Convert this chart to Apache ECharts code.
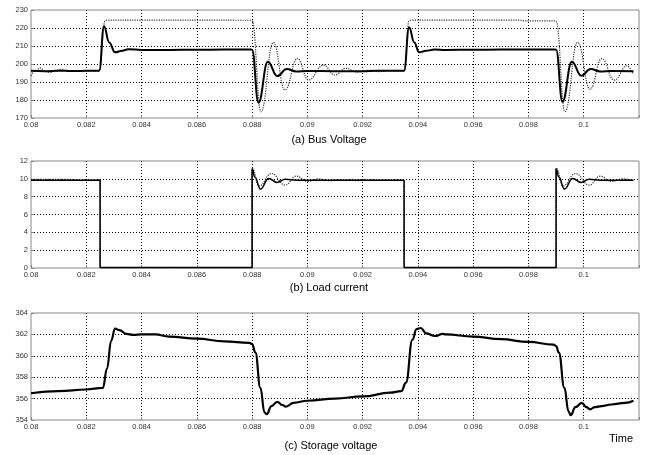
<!DOCTYPE html>
<html>
<head>
<meta charset="utf-8" />
<title>Bus voltage, load current and storage voltage</title>
<script src="https://cdn.jsdelivr.net/npm/echarts@6/dist/echarts.min.js"></script>
<style>
  html, body { margin: 0; padding: 0; background: #fff; }
  #main { width: 647px; height: 455px; }
</style>
</head>
<body>
<div id="main"></div>
<script type="text/javascript">
// values: [time (s), value]
var busSolid = [
  [0.08, 196.2], [0.0805, 196.0], [0.081, 196.3], [0.0815, 196.1], [0.082, 196.2], [0.08244, 196.2], [0.08247, 196.3],
  [0.08264, 221], [0.08283, 212], [0.08304, 206.5], [0.0833, 207.4], [0.08352, 208.2], [0.084, 207.8], [0.085, 207.8],
  [0.086, 207.9], [0.087, 208], [0.08797, 208], [0.088, 207.8], [0.08823, 178.5], [0.08857, 201.3],
  [0.08891, 193.3], [0.08925, 197.2], [0.0896, 195.9], [0.09, 196.1],
  [0.091, 196], [0.092, 196], [0.0925, 196.3], [0.09347, 196.2], [0.0935, 196.3], [0.09368, 220.4], [0.09387, 212],
  [0.09404, 206.5], [0.0943, 207.3], [0.0946, 208.1], [0.095, 207.8], [0.096, 207.9], [0.097, 208], [0.098, 208.1],
  [0.09897, 208.1], [0.099, 207.9], [0.09923, 179], [0.09957, 201.3], [0.09991, 193.5],
  [0.10025, 197.2], [0.1006, 195.9], [0.101, 196.1], [0.1018, 196]
];
var busDotted = [
  [0.08, 193.5], [0.08015, 196], [0.08033, 197.8], [0.0805, 196], [0.0807, 195.3], [0.0809, 196.5], [0.0811, 197],
  [0.0813, 196], [0.0816, 196.3], [0.082, 196.2], [0.08244, 196.2], [0.08247, 196.3], [0.08268, 223.8], [0.08275, 224.4],
  [0.084, 224.4], [0.086, 224.4], [0.08797, 224.3], [0.088, 224], [0.08832, 173.5], [0.08877, 212], [0.08919, 185.6],
  [0.08964, 203.1], [0.09004, 191.1], [0.09058, 199.4], [0.091, 193.9], [0.09139, 197.6], [0.0918, 195.5],
  [0.0922, 196.5], [0.0926, 195.8], [0.093, 196.2], [0.09347, 196.2], [0.0935, 196.3], [0.09368, 223.8], [0.09375, 224.4],
  [0.0977, 224.4], [0.0978, 224], [0.09897, 224], [0.099, 223.7], [0.09932, 173.5], [0.09978, 212], [0.10023, 186],
  [0.10065, 203], [0.10111, 191], [0.10156, 199], [0.1018, 194]
];
var loadSolid = [
  [0.08, 9.85], [0.0824, 9.85], [0.0825, 9.85], [0.0825, 0.05], [0.0879, 0.05], [0.088, 0.05], [0.088, 11.1],
  [0.0881, 10.2], [0.0883, 8.85], [0.0886, 10.05], [0.0889, 9.6], [0.0892, 9.95], [0.0896, 9.85], [0.093, 9.85],
  [0.0934, 9.85], [0.0935, 9.85], [0.0935, 0.05], [0.0989, 0.05], [0.099, 0.05], [0.099, 11.1], [0.0991, 10.2],
  [0.0993, 8.85], [0.0996, 10.05], [0.0999, 9.6], [0.1002, 9.95], [0.1006, 9.85], [0.1018, 9.85]
];
var loadDotted = [
  [0.08, 9.95], [0.0813, 9.95], [0.0818, 9.85], [0.0825, 9.85], [0.0825, 0.05], [0.088, 0.05], [0.088, 11.2],
  [0.08825, 9.2], [0.0887, 10.6], [0.0892, 9.3], [0.0896, 10.3], [0.09, 9.7], [0.0904, 10.0], [0.0908, 9.8],
  [0.0912, 9.9], [0.0935, 9.85], [0.0935, 0.05], [0.099, 0.05], [0.099, 11.2], [0.09925, 9.2], [0.0997, 10.6],
  [0.1002, 9.3], [0.1006, 10.3], [0.101, 9.7], [0.1014, 10.0], [0.1018, 9.8]
];
var storage = [
  [0.08, 356.5], [0.081, 356.7], [0.082, 356.85], [0.0826, 357.0], [0.08275, 358.8], [0.0829, 361.4], [0.08304, 362.55],
  [0.0832, 362.4], [0.08345, 362.05], [0.0837, 361.95], [0.084, 362.0], [0.0845, 362.0], [0.085, 361.8], [0.086, 361.6],
  [0.087, 361.35], [0.0879, 361.2], [0.088, 361.1], [0.08812, 360.3], [0.0883, 357], [0.08845, 354.7], [0.08853, 354.55],
  [0.0887, 355.3], [0.08891, 355.7], [0.0891, 355.4], [0.08922, 355.25], [0.0895, 355.6], [0.09, 355.8], [0.091, 356.0],
  [0.092, 356.2], [0.093, 356.55], [0.0934, 356.7], [0.09357, 357.5], [0.0938, 361.5], [0.09395, 362.5], [0.0941, 362.6],
  [0.0943, 362.1], [0.09462, 361.85], [0.0949, 362.05], [0.095, 362.0], [0.096, 361.8], [0.097, 361.55], [0.098, 361.3],
  [0.0989, 361.05], [0.099, 360.9], [0.0991, 360.3], [0.0993, 357], [0.09945, 354.8], [0.09953, 354.45], [0.0997, 355.2],
  [0.09993, 355.6], [0.1001, 355.2], [0.10023, 355.0], [0.1004, 355.2], [0.10065, 355.3], [0.101, 355.45],
  [0.1015, 355.6], [0.1018, 355.8]
];
var timeRange = [0.08, 0.102, 0.002];
var busTicks = [170, 230, 10];
var loadTicks = [0, 12, 2];
var storageTicks = [354, 364, 2];
var titles = ['(a) Bus Voltage', '(b) Load current', '(c) Storage voltage'];

var tickFont = { fontFamily: 'Liberation Sans', fontSize: 7.5, color: '#333' };
var dotted = { color: '#000', width: 1, type: [1, 2] };

function xAxisFor(i) {
  return {
    type: 'value', gridIndex: i,
    min: timeRange[0], max: timeRange[1], interval: timeRange[2],
    axisLine: { show: false },
    axisTick: { show: true, inside: true, length: 3, lineStyle: { color: '#888' } },
    axisLabel: Object.assign({
      margin: 3,
      formatter: function (v) { return v > 0.1015 ? '' : String(+v.toFixed(3)); }
    }, tickFont),
    splitLine: { show: true, showMinLine: false, showMaxLine: false, lineStyle: dotted }
  };
}
function yAxisFor(i, t) {
  return {
    type: 'value', gridIndex: i, min: t[0], max: t[1], interval: t[2],
    axisLine: { show: false },
    axisTick: { show: true, inside: true, length: 3, lineStyle: { color: '#888' } },
    axisLabel: Object.assign({ margin: 3 }, tickFont),
    splitLine: { show: true, showMinLine: false, showMaxLine: false, lineStyle: dotted }
  };
}
function line(data, i, color, width, type, z) {
  return {
    type: 'line', data: data, xAxisIndex: i, yAxisIndex: i,
    showSymbol: false, smooth: 0.45, smoothMonotone: 'x', clip: false, z: z,
    lineStyle: { color: color, width: width, type: type }
  };
}

var chart = echarts.init(document.getElementById('main'));
chart.setOption({
  animation: false,
  backgroundColor: '#fff',
  grid: [
    { left: 31, top: 10, width: 608, height: 108, show: true, borderColor: '#888', borderWidth: 1 },
    { left: 31, top: 161, width: 608, height: 107, show: true, borderColor: '#888', borderWidth: 1 },
    { left: 31, top: 313, width: 608, height: 107, show: true, borderColor: '#888', borderWidth: 1 }
  ],
  xAxis: [xAxisFor(0), xAxisFor(1), xAxisFor(2)],
  yAxis: [yAxisFor(0, busTicks), yAxisFor(1, loadTicks), yAxisFor(2, storageTicks)],
  series: [
    line(busDotted, 0, '#333', 1.2, [1.2, 1.2], 2),
    line(busSolid, 0, '#000', 2, 'solid', 3),
    line(loadDotted, 1, '#333', 1.2, [1.2, 1.2], 2),
    line(loadSolid, 1, '#000', 1.5, 'solid', 3),
    line(storage, 2, '#000', 2.2, 'solid', 3)
  ],
  graphic: [
    { type: 'text', x: 329, y: 140, style: { text: titles[0], textAlign: 'center', textVerticalAlign: 'middle', font: '11px "Liberation Sans"', fill: '#000' } },
    { type: 'text', x: 329, y: 288, style: { text: titles[1], textAlign: 'center', textVerticalAlign: 'middle', font: '11px "Liberation Sans"', fill: '#000' } },
    { type: 'text', x: 331, y: 446, style: { text: titles[2], textAlign: 'center', textVerticalAlign: 'middle', font: '11px "Liberation Sans"', fill: '#000' } },
    { type: 'text', x: 621, y: 439, style: { text: 'Time', textAlign: 'center', textVerticalAlign: 'middle', font: '11px "Liberation Sans"', fill: '#000' } }
  ]
});
</script>
</body>
</html>
